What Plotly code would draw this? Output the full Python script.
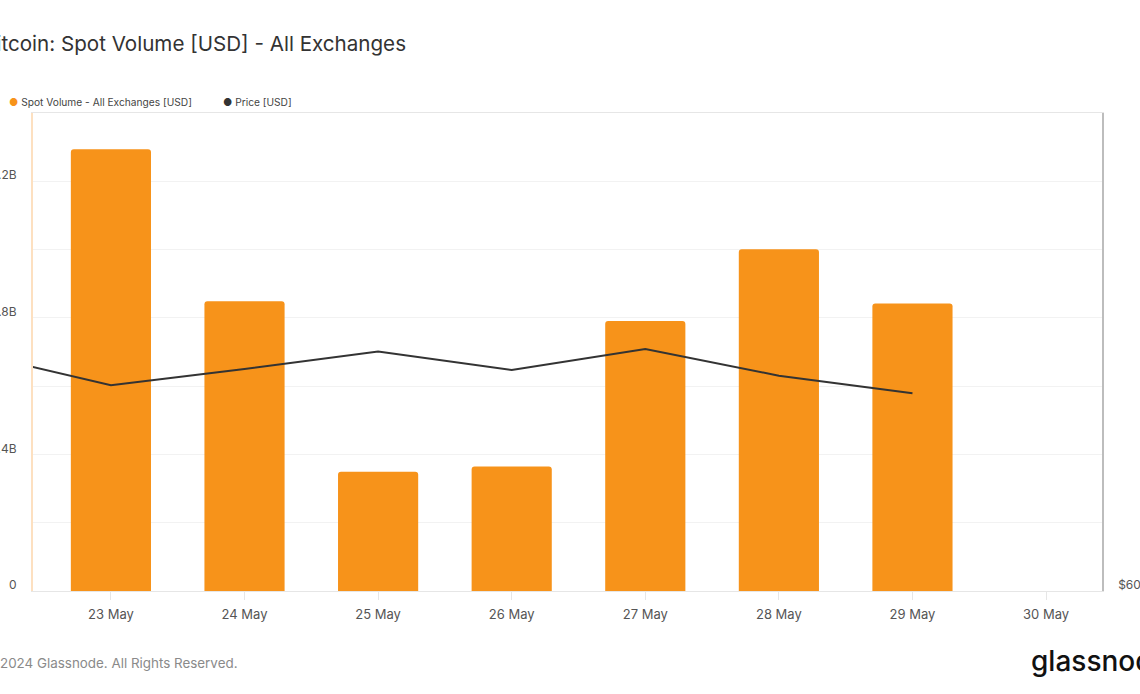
import plotly.graph_objects as go

# ---- data ----
dates = ["2024-05-23", "2024-05-24", "2024-05-25", "2024-05-26",
         "2024-05-27", "2024-05-28", "2024-05-29"]
spot_volume = [1.294e9, 0.849e9, 0.349e9, 0.365e9, 0.791e9, 1.001e9, 0.842e9]

price_dates = ["2024-05-22", "2024-05-23", "2024-05-24", "2024-05-25",
               "2024-05-26", "2024-05-27", "2024-05-28", "2024-05-29"]
price = [69150, 67940, 68570, 69240, 68530, 69340, 68310, 67630]

vol_tickvals = [0, 0.2e9, 0.4e9, 0.6e9, 0.8e9, 1.0e9, 1.2e9, 1.4e9]
vol_ticktext = ["0", "", "$0.4B", "", "$0.8B", "", "$1.2B", ""]
price_tickvals = [60000]
price_ticktext = ["$60K"]

title_text = "Bitcoin: Spot Volume [USD] - All Exchanges"
legend_vol = "Spot Volume - All Exchanges [USD]"
legend_price = "Price [USD]"
footer_text = "© 2024 Glassnode. All Rights Reserved."
logo_text = "glassnode"

ORANGE = "#f7931a"
DARK = "#333333"
FONT = "Inter, Noto Sans, sans-serif"

# plot area in pixels
L, R, T, B = 33, 1102, 113, 591
W, H = 1140, 694


def px_x(p):
    return (p - L) / (R - L)


def px_y(p):
    return (B - p) / (B - T)


fig = go.Figure()
fig.add_trace(go.Bar(
    x=dates, y=spot_volume, name=legend_vol,
    marker=dict(color=ORANGE, line=dict(width=0), cornerradius=3),
    width=0.6 * 86400000, showlegend=False,
))
fig.add_trace(go.Scatter(
    x=price_dates, y=price, name=legend_price, yaxis="y2",
    mode="lines", line=dict(color=DARK, width=2), showlegend=False,
))

fig.update_layout(
    width=W, height=H,
    margin=dict(l=L, r=W - R, t=T, b=H - B, pad=0),
    paper_bgcolor="white", plot_bgcolor="white",
    font=dict(family=FONT, color="#555555"),
    bargap=0.4,
    xaxis=dict(
        type="date",
        range=["2024-05-22 10:00", "2024-05-30 10:03"],
        tick0="2024-05-23", dtick=86400000, tickformat="%-d %b",
        showgrid=False, showline=True, linecolor="#e6e6e6", linewidth=1,
        mirror=True,
        ticks="outside", ticklen=8, tickcolor="#e6e6e6",
        ticklabelstandoff=3,
        tickfont=dict(size=13, color="#555555"),
        zeroline=False, automargin=False, fixedrange=True,
    ),
    yaxis=dict(
        range=[0, 1.4e9], tickvals=vol_tickvals, ticktext=vol_ticktext,
        showgrid=True, gridcolor="#f2f2f2", gridwidth=1,
        showline=True, linecolor="#fde0c0", linewidth=2,
        ticks="", ticklabelstandoff=12, ticklabelshift=-6,
        tickfont=dict(size=12, color="#555555"),
        zeroline=False, automargin=False,
    ),
    yaxis2=dict(
        range=[60000, 78450], overlaying="y", side="right",
        tickvals=price_tickvals, ticktext=price_ticktext,
        showgrid=False, showline=True, linecolor="#bdbdbd", linewidth=1.5,
        ticks="", ticklabelstandoff=12, ticklabelshift=-6,
        tickfont=dict(size=12, color="#555555"),
        zeroline=False, automargin=False,
    ),
    annotations=[
        dict(text=title_text, xref="paper", yref="paper",
             x=px_x(-19.5), y=px_y(44), xanchor="left", yanchor="middle",
             showarrow=False, font=dict(size=20.6, color=DARK, family=FONT)),
        dict(text=f"<span style='color:{ORANGE}'>●</span> {legend_vol}",
             xref="paper", yref="paper", x=px_x(7), y=px_y(102),
             xanchor="left", yanchor="middle", showarrow=False,
             font=dict(size=10.2, color="#444444", family=FONT)),
        dict(text=f"<span style='color:{DARK}'>●</span> {legend_price}",
             xref="paper", yref="paper", x=px_x(221), y=px_y(102),
             xanchor="left", yanchor="middle", showarrow=False,
             font=dict(size=10.2, color="#444444", family=FONT)),
        dict(text=footer_text, xref="paper", yref="paper",
             x=px_x(-18), y=px_y(663), xanchor="left", yanchor="middle",
             showarrow=False, font=dict(size=13.4, color="#8a8a8a", family=FONT)),
        dict(text=logo_text, xref="paper", yref="paper",
             x=px_x(1029), y=px_y(661), xanchor="left", yanchor="middle",
             showarrow=False, font=dict(size=28, color="#111111", family=FONT,
                                        weight=500)),
    ],
)

fig.write_html("out.html")
